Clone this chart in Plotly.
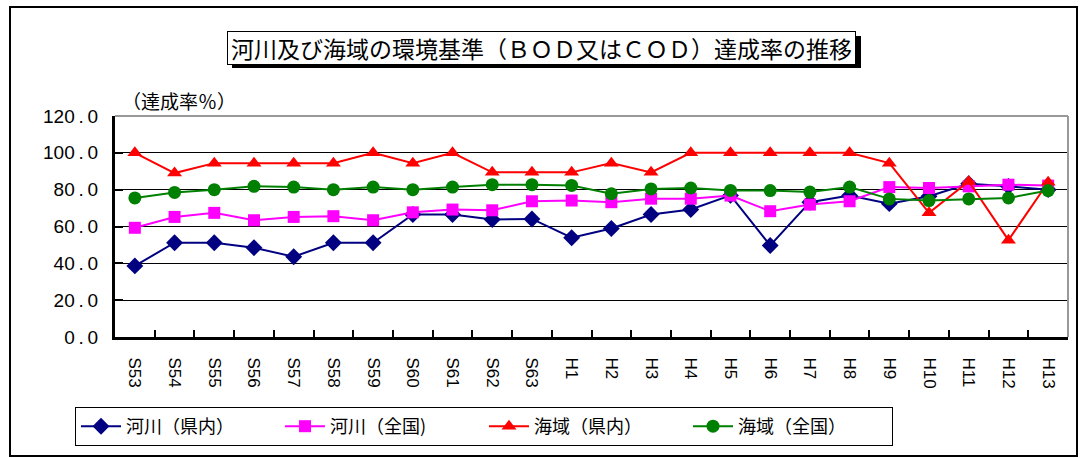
import plotly.graph_objects as go

categories = ["S53", "S54", "S55", "S56", "S57", "S58", "S59", "S60", "S61", "S62", "S63",
              "H1", "H2", "H3", "H4", "H5", "H6", "H7", "H8", "H9", "H10", "H11", "H12", "H13"]

river_pref = [38.6, 51.2, 51.2, 48.5, 43.6, 51.2, 51.2, 66.5, 66.5, 63.8, 64.1,
              53.9, 58.9, 66.5, 69.2, 76.9, 49.7, 73.2, 76.8, 72.4, 76.4, 83.2, 81.8, 80.0]
river_nat = [59.3, 65.2, 67.4, 63.4, 65.2, 65.6, 63.4, 67.7, 69.2, 68.8, 73.7,
             74.1, 73.2, 75.1, 75.1, 76.8, 68.3, 71.9, 73.7, 81.4, 80.9, 81.8, 82.7, 82.2]
sea_pref = [100.0, 89.0, 94.4, 94.4, 94.4, 94.4, 100.0, 94.4, 100.0, 89.4, 89.4,
            89.4, 94.4, 89.4, 100.0, 100.0, 100.0, 100.0, 100.0, 94.4, 67.4, 84.5, 52.6, 84.0]
sea_nat = [75.5, 78.5, 80.0, 81.8, 81.4, 80.0, 81.4, 80.0, 81.4, 82.7, 82.7,
           82.3, 77.8, 80.4, 80.9, 79.6, 79.5, 78.7, 81.4, 75.0, 74.1, 75.0, 75.5, 79.5]

series_names = ["河川（県内）", "河川（全国)", "海域（県内）", "海域（全国）"]
y_ticks = [0, 20, 40, 60, 80, 100, 120]
y_ticktext = ["0\u2009.\u20090", "20\u2009.\u20090", "40\u2009.\u20090", "60\u2009.\u20090",
              "80\u2009.\u20090", "100\u2009.\u20090", "120\u2009.\u20090"]

title_text = "河川及び海域の環境基準（ＢＯＤ又はＣＯＤ）達成率の推移"
unit_text = "（達成率％）"

W, H = 1081, 458
PL, PR, PT, PB = 115, 1068, 116, 337  # plot area in pixels


def px(x):
    return (x - PL) / (PR - PL)


def py(y):
    return (PB - y) / (PB - PT)


FONT = "Noto Sans CJK JP"
NUMFONT = "Liberation Sans"

fig = go.Figure()
styles = [
    dict(color="#000080", symbol="diamond", size=13),
    dict(color="#FF00FF", symbol="square", size=12),
    dict(color="#FF0000", symbol="triangle-up", size=13),
    dict(color="#008000", symbol="circle", size=13),
]
for name, vals, st in zip(series_names, [river_pref, river_nat, sea_pref, sea_nat], styles):
    fig.add_trace(go.Scatter(
        x=categories, y=vals, name=name, mode="lines+markers",
        line=dict(color=st["color"], width=2),
        marker=dict(color=st["color"], symbol=st["symbol"], size=st["size"]),
    ))

shapes = [
    # outer border
    dict(type="rect", xref="paper", yref="paper", x0=px(10), x1=px(1077), y0=py(456), y1=py(7),
         line=dict(color="black", width=2), fillcolor="rgba(0,0,0,0)", layer="below"),
    # plot area gray frame: top and right
    dict(type="line", xref="paper", yref="paper", x0=0, x1=1, y0=1, y1=1,
         line=dict(color="#999999", width=2), layer="above"),
    dict(type="line", xref="paper", yref="paper", x0=1, x1=1, y0=0, y1=1,
         line=dict(color="#999999", width=2), layer="above"),
    # title shadow
    dict(type="rect", xref="paper", yref="paper", x0=px(232), x1=px(861), y0=py(68), y1=py(36),
         line=dict(width=0), fillcolor="black", layer="above"),
]

annotations = [
    dict(text=title_text, xref="paper", yref="paper", x=px(541), y=py(48), showarrow=False,
         xanchor="center", yanchor="middle", font=dict(family=FONT, size=23, color="black"),
         bgcolor="white", bordercolor="black", borderwidth=1, borderpad=0,
         width=627, height=32),
    dict(text=unit_text, xref="paper", yref="paper", x=px(120), y=py(100), showarrow=False,
         xanchor="left", yanchor="middle", font=dict(family=FONT, size=19, color="black")),
]

fig.update_layout(
    width=W, height=H,
    margin=dict(l=PL, r=W - PR, t=PT, b=H - PB),
    paper_bgcolor="white", plot_bgcolor="white",
    font=dict(family=FONT, color="black"),
    shapes=shapes, annotations=annotations,
    showlegend=True,
    legend=dict(orientation="h", x=px(75), y=py(407), xanchor="left", yanchor="top",
                bordercolor="black", borderwidth=1, bgcolor="white",
                font=dict(family=FONT, size=18, color="black"),
                entrywidth=149, entrywidthmode="pixels", itemwidth=40, tracegroupgap=0),
)

fig.update_xaxes(
    type="category", tickmode="array", tickvals=categories, ticktext=categories,
    tickangle=90, tickfont=dict(family=NUMFONT, size=17, color="black"),
    showline=True, linecolor="black", linewidth=3, mirror=False,
    ticks="inside", tickson="boundaries", ticklen=7, tickwidth=2, tickcolor="black",
    showgrid=False, ticklabelstandoff=14, range=[-0.5, len(categories) - 0.5],
)
fig.update_yaxes(
    range=[0, 120], tickmode="array", tickvals=y_ticks, ticktext=y_ticktext,
    tickfont=dict(family=NUMFONT, size=19, color="black"),
    showline=True, linecolor="black", linewidth=3,
    ticks="inside", ticklen=8, tickwidth=2, tickcolor="black",
    showgrid=True, gridcolor="black", gridwidth=1, zeroline=False,
    ticklabelstandoff=10,
)

fig.write_html("out.html", config={"displayModeBar": False},
               post_script="document.body.style.margin='0';")
